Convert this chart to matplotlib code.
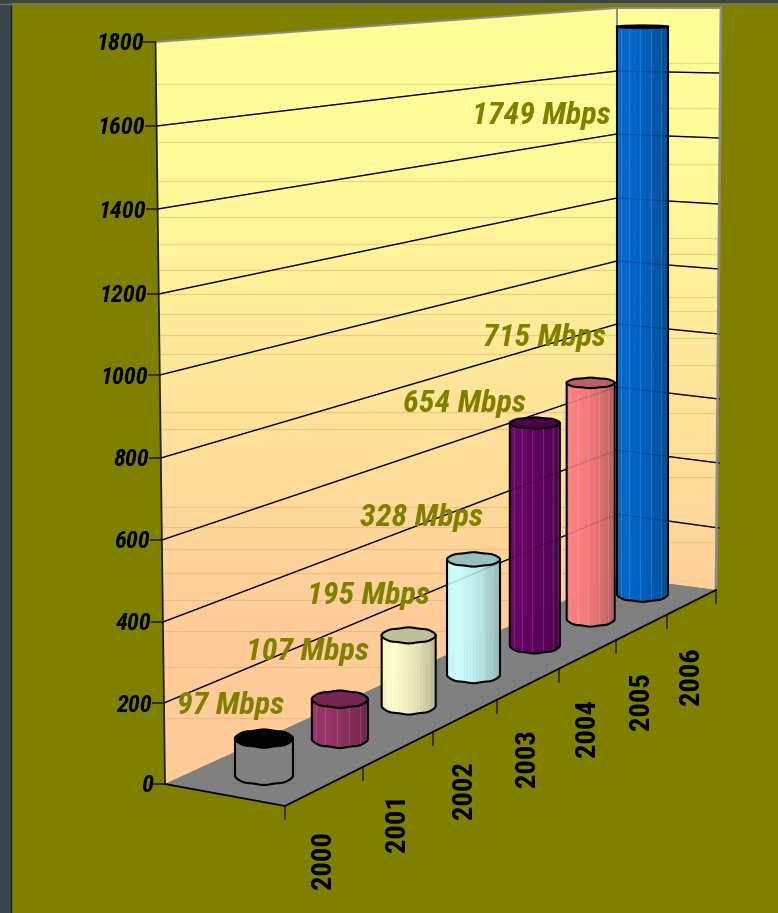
import numpy as np
import matplotlib
matplotlib.use("Agg")
import matplotlib.pyplot as plt
from matplotlib.patches import Polygon
from matplotlib.colors import to_rgb

# chart data
years = ["2000", "2001", "2002", "2003", "2004", "2005", "2006"]
speeds = [97, 107, 195, 328, 654, 715, 1749]
speed_labels = ["97 Mbps", "107 Mbps", "195 Mbps", "328 Mbps", "654 Mbps", "715 Mbps", "1749 Mbps"]
y_ticks = [0, 200, 400, 600, 800, 1000, 1200, 1400, 1600, 1800]

# colours
body_colors = ["#808080", "#993366", "#FFFFCC", "#CCFFFF", "#660066", "#FF8080", "#0066CC"]
top_colors = ["#000000", "#732650", "#BFBF99", "#99BFBF", "#4D004D", "#BF6060", "#000000"]
OLIVE = "#808000"
FLOOR = "#808080"
EDGE = "#8C8C8C"

# projection of the 3d box, in picture pixels
left_y = [784, 703, 622, 540, 458, 375, 294, 209, 126, 42]
back_y = [577, 514, 450, 387, 324, 261, 198, 134, 71, 8]
right_y = [590, 528, 463, 399, 334, 269, 204, 138, 73, 8]
BACK_X = 617
RIGHT_X = 719
FRONT = (285, 806)
FLOOR_RIGHT = (716, 590)
boundary_x = [285, 363, 433, 497, 559, 616, 667, 716]
bar_half = [29, 28, 27, 26.5, 25, 24, 25.5]
# pixels per Mbps, bars further back are shorter
bar_scale = [0.38, 0.3705, 0.361, 0.3515, 0.34, 0.33, 0.3245]
label_x = [231, 308, 369, 422, 465, 545, 541]
label_y = [705, 652, 595, 517, 403, 337, 116]

# faint bands on the walls
left_bands = [84, 142, 181, 217, 244, 270, 294, 314, 335, 354, 412, 429, 507, 527, 549, 573, 600, 631, 667, 718]
right_bands = [63, 108, 164, 238, 254, 297, 311, 338, 365, 413, 453, 477, 542]

NARROW = ["Roboto Condensed", "Liberation Sans"]


def wall_left_x(y):
    return 155.5 + (165 - 155.5) * (y - 42) / (784 - 42)


def front_edge_y(x):
    return FRONT[1] + (FLOOR_RIGHT[1] - FRONT[1]) * (x - FRONT[0]) / (FLOOR_RIGHT[0] - FRONT[0])


def bar_base(i):
    # centre of the bar's foot on the floor
    mid = (boundary_x[i] + boundary_x[i + 1]) / 2
    return mid - 60 + 11 * i / 6, front_edge_y(mid) - 11 + 3 * i / 6


def squash(y):
    # ellipse half height, flatter near the top of the picture
    return 1 + y * 0.0105


def ring(cx, cy, hw, hh, t):
    r = 1 + 0.05 * np.cos(8 * t)
    return cx + hw * np.sin(t), cy + hh * r * np.cos(t)


def draw_bar(ax, i):
    cx, base = bar_base(i)
    top = base - speeds[i] * bar_scale[i]
    hw = bar_half[i]
    ht, hb = squash(top), squash(base)
    color = np.array(to_rgb(body_colors[i]))
    t = np.linspace(-np.pi / 2, np.pi / 2, 29)
    x1, y1 = ring(cx, top, hw, ht, t)
    x2, y2 = ring(cx, base, hw, hb, t)
    for k in range(len(t) - 1):
        u = (x1[k] - cx + hw) / (2 * hw)
        if i == 0:
            c = color
        else:
            c = color * np.interp(u, [0, 0.2, 0.6, 1], [0.97, 1.0, 0.9, 0.72])
        pts = [(x1[k], y1[k]), (x1[k + 1], y1[k + 1]), (x2[k + 1], y2[k + 1]), (x2[k], y2[k])]
        ax.add_patch(Polygon(pts, closed=True, fc=c, ec=c, lw=0.4, zorder=5))
        if i > 0 and k % 4 == 1:
            ax.plot([x1[k], x2[k]], [y1[k], y2[k]], color="white", alpha=0.14, lw=0.8, zorder=5.1)
    ta = np.linspace(0, 2 * np.pi, 61)
    xt, yt = ring(cx, top, hw, ht, ta)
    ax.add_patch(Polygon(np.column_stack([xt, yt]), closed=True, fc=top_colors[i], ec="black", lw=1.5, zorder=6))
    ax.plot(np.r_[x1[0], x2, x1[-1]], np.r_[y1[0], y2, y1[-1]], color="black", lw=1.5, zorder=6)


fig = plt.figure(figsize=(7.78, 9.13), dpi=100, facecolor=OLIVE)
ax = fig.add_axes([0, 0, 1, 1])
ax.set_xlim(0, 778)
ax.set_ylim(913, 0)
ax.axis("off")

# window frame
ax.fill_between([0, 11], 0, 913, color="#3B444B", lw=0, zorder=1)
ax.plot([11, 11], [4, 913], color="#1E2226", lw=1, zorder=1)
ax.fill_between([0, 778], 0, 3.5, color="#3B444B", lw=0, zorder=1)
ax.plot([0, 778], [4, 4], color="#6E7478", lw=1, zorder=1)

# walls with vertical gradient
green = np.interp(np.arange(913), [40, 200, 330, 500, 620], [255, 248, 235, 218, 204]) / 255
blue = np.full(913, 153) / 255
grad = np.dstack([np.ones(913), green, blue]).reshape(913, 1, 3)
wall_poly = Polygon([(155.5, 42), (BACK_X, 8), (721, 8), (716, 590), (BACK_X, 577), (165, 784)],
                    closed=True, fc="none", ec="none")
ax.add_patch(wall_poly)
im = ax.imshow(grad, extent=(0, 778, 913, 0), aspect="auto", zorder=2)
im.set_clip_path(wall_poly)
ax.set_xlim(0, 778)
ax.set_ylim(913, 0)

# faint bands
for y in left_bands:
    line, = ax.plot([wall_left_x(y), BACK_X], [y, y], color="#C8A860", alpha=0.4, lw=0.9, zorder=2.1)
    line.set_clip_path(wall_poly)
for y in right_bands:
    line, = ax.plot([BACK_X, RIGHT_X], [y, y], color="#C8A860", alpha=0.4, lw=0.9, zorder=2.1)
    line.set_clip_path(wall_poly)

# grid lines on both walls
for v, ly, by, ry in zip(y_ticks[1:-1], left_y[1:-1], back_y[1:-1], right_y[1:-1]):
    ax.plot([wall_left_x(ly), BACK_X], [ly, by], color="black", lw=1.0, zorder=3)
    ax.plot([BACK_X, RIGHT_X], [by, ry], color="black", lw=1.0, zorder=3)

# wall edges
ax.plot([155.5, BACK_X, 721], [42, 8, 8], color=EDGE, lw=1.4, zorder=3.2)
ax.plot([BACK_X, BACK_X], [8, 577], color=EDGE, lw=1.4, zorder=3.2)
ax.plot([721, 716], [8, 590], color=EDGE, lw=2, zorder=3.2)
ax.plot([155.5, 165], [42, 784], color="#222222", lw=1.3, zorder=3.2)

# floor
floor = [(165, 784), FRONT, FLOOR_RIGHT, (BACK_X, 577)]
ax.add_patch(Polygon(floor, closed=True, fc=FLOOR, ec="none", zorder=4))
ax.plot([165, FRONT[0], FLOOR_RIGHT[0]], [784, FRONT[1], FLOOR_RIGHT[1]], color="black", lw=1.3, zorder=4.1)

# value axis
for v, ly in zip(y_ticks, left_y):
    wx = wall_left_x(ly)
    ax.plot([wx - 11, wx], [ly, ly], color="#202000", lw=1.2, zorder=4)
    ax.text(wx - 12, ly + 2, str(v), ha="right", va="center", fontsize=17.5, family=NARROW,
            weight="bold", style="italic", color="black", zorder=8)

# year axis
for bx in boundary_x:
    by = front_edge_y(bx)
    ax.plot([bx, bx], [by, by + 13], color="#202000", lw=1.1, zorder=4)
for i, year in enumerate(years):
    mid = (boundary_x[i] + boundary_x[i + 1]) / 2
    ax.text(mid, front_edge_y(mid) + 74, year, ha="center", va="center", rotation=90,
            fontsize=20.5, family=NARROW, weight="bold", color="black", zorder=8)

for i in range(len(years)):
    draw_bar(ax, i)

# grid shows faintly through the bars
for v, ly, by, ry in zip(y_ticks[1:-1], left_y[1:-1], back_y[1:-1], right_y[1:-1]):
    ax.plot([wall_left_x(ly), BACK_X], [ly, by], color="black", lw=0.9, alpha=0.13, zorder=7)
    ax.plot([BACK_X, RIGHT_X], [by, ry], color="black", lw=0.9, alpha=0.13, zorder=7)

for i, text in enumerate(speed_labels):
    ax.text(label_x[i], label_y[i], text, ha="center", va="center", fontsize=23, family=NARROW,
            weight="bold", style="italic", color=OLIVE, zorder=9)

fig.savefig("out.png", dpi=100, facecolor=OLIVE)
